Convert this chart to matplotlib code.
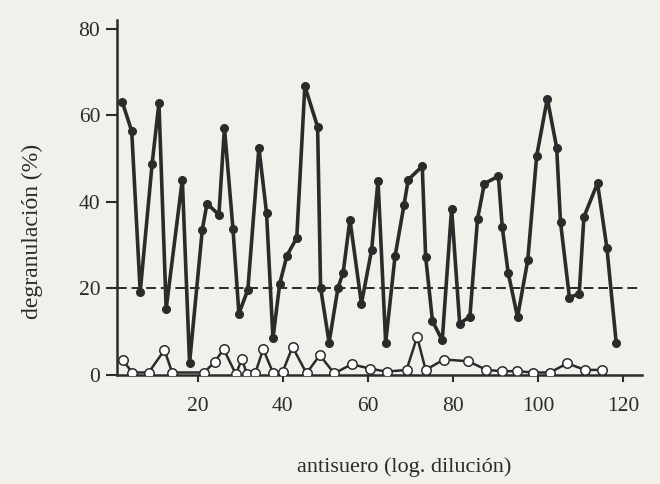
import matplotlib
matplotlib.use("Agg")
import matplotlib.pyplot as plt

# filled series (antiserum)
x_filled = [2.3, 4.5, 6.5, 9.3, 10.9, 12.6, 16.4, 18.1, 21.1, 22.2, 25.0, 26.3,
            28.3, 29.7, 31.8, 34.4, 36.2, 37.7, 39.3, 41.0, 43.3, 45.2, 48.2, 48.9,
            50.9, 53.0, 54.2, 55.8, 58.5, 60.9, 62.4, 64.2, 66.4, 68.5, 69.5, 72.8,
            73.6, 75.2, 77.5, 79.7, 81.6, 84.0, 85.8, 87.4, 90.7, 91.6, 93.0, 95.2,
            97.6, 99.7, 102.2, 104.4, 105.3, 107.4, 109.7, 110.8, 114.0, 116.2, 118.4]
y_filled = [63.0, 56.3, 19.2, 48.8, 62.8, 15.3, 45.1, 2.8, 33.6, 39.6, 37.0, 57.1,
            33.8, 14.2, 19.7, 52.5, 37.4, 8.5, 21.1, 27.6, 31.7, 66.7, 57.3, 20.2,
            7.5, 20.2, 23.6, 35.9, 16.5, 28.9, 44.9, 7.5, 27.4, 39.2, 45.1, 48.2,
            27.3, 12.5, 8.0, 38.4, 11.9, 13.5, 36.1, 44.2, 45.9, 34.2, 23.6, 13.4,
            26.5, 50.6, 63.8, 52.5, 35.3, 17.9, 18.8, 36.5, 44.3, 29.4, 7.4]

# open series (control)
x_open = [2.4, 4.6, 8.5, 12.2, 14.0, 21.5, 24.0, 26.1, 29.0, 30.4, 31.6, 33.6,
          35.4, 37.7, 40.0, 42.3, 45.6, 48.7, 52.1, 56.2, 60.5, 64.4, 69.1, 71.6,
          73.6, 77.9, 83.6, 87.9, 91.5, 95.0, 98.9, 102.8, 106.9, 111.1, 115.0]
y_open = [3.5, 0.6, 0.6, 5.8, 0.6, 0.6, 3.0, 6.0, 0.2, 3.7, 0.2, 0.6,
          6.0, 0.6, 0.8, 6.5, 0.4, 4.6, 0.4, 2.5, 1.5, 0.8, 1.2, 8.8,
          1.2, 3.6, 3.2, 1.2, 0.9, 0.9, 0.6, 0.6, 2.7, 1.2, 1.2]

threshold = 20
xticks = [20, 40, 60, 80, 100, 120]
yticks = [0, 20, 40, 60, 80]

bg = '#f2f0eb'
ink = '#2b2b2b'
plt.rcParams['font.family'] = ['Liberation Serif', 'DejaVu Serif']

fig = plt.figure(figsize=(6.6, 4.84), dpi=100, facecolor=bg)
ax = fig.add_axes([0.177, 0.225, 0.796, 0.734], facecolor=bg)

ax.plot([1, 124], [threshold, threshold], ls=(0, (5, 2.5)), c=ink, lw=1.4)

ax.plot(x_open, y_open, c=ink, lw=1.8, marker='o', ms=6.8,
        mfc='white', mec=ink, mew=1.1, zorder=3)
ax.plot(x_filled, y_filled, c=ink, lw=2.6, marker='o', ms=5.5,
        mfc=ink, mec=ink, zorder=4)

ax.set_xlim(1, 124.5)
ax.set_ylim(0, 82)
ax.set_xticks(xticks)
ax.set_yticks(yticks)
for s in ['top', 'right']:
    ax.spines[s].set_visible(False)
for s in ['left', 'bottom']:
    ax.spines[s].set_linewidth(1.8)
    ax.spines[s].set_color(ink)
ax.tick_params(axis='x', length=5, width=1.5, pad=11, colors=ink, labelsize=15.5)
ax.tick_params(axis='y', length=8, width=1.5, pad=4, colors=ink, labelsize=15.5)

ax.set_xlabel('antisuero (log. dilución)', fontsize=16, color=ink)
ax.set_ylabel('degranulación (%)', fontsize=17, color=ink)
ax.xaxis.set_label_coords(0.547, -0.232)
ax.yaxis.set_label_coords(-0.14, 0.405)

fig.savefig('out.png', dpi=100, facecolor=bg)
